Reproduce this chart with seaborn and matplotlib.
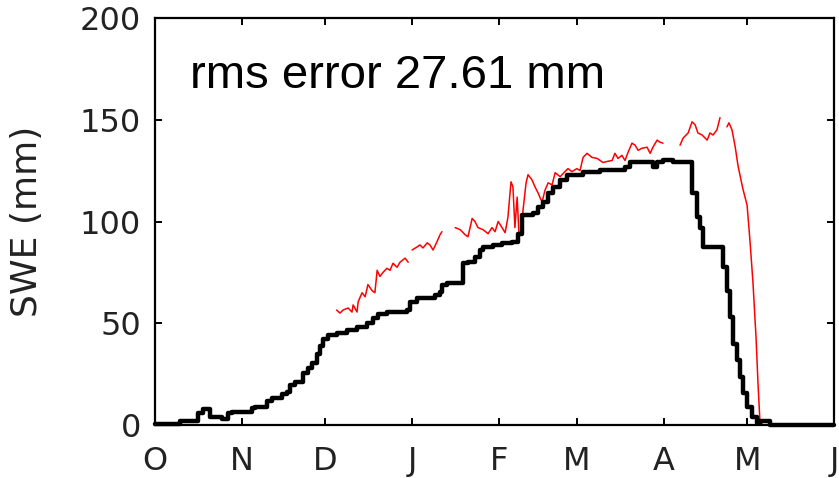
import matplotlib
matplotlib.use("Agg")
import matplotlib.pyplot as plt
import seaborn as sns
import pandas as pd

# ---- data (day of water year from Oct 1, SWE in mm) ----
month_labels = ["O", "N", "D", "J", "F", "M", "A", "M", "J"]
month_days = [0, 31, 61, 92, 123, 151, 182, 212, 243]
y_ticks = [0, 50, 100, 150, 200]

obs_day = [0, 8.9, 15.4, 17.2, 19.7, 24.0, 26.1, 27.6, 34.7, 35.8, 40.1, 41.9, 45.5,
           47.2, 48.3, 50.1, 53.0, 54.8, 56.2, 58.0, 59.1, 60.1, 61.9, 65.1, 68.7,
           72.3, 75.9, 78.0, 79.8, 83.0, 90.2, 91.3, 93.8, 100.2, 102.0, 102.7, 104.5,
           110.2, 112.0, 114.5, 116.3, 117.4, 121.0, 124.2, 127.8, 129.9, 131.4, 135.3,
           137.1, 138.9, 140.7, 142.4, 145.0, 147.5, 153.2, 159.3, 168.2, 170.0, 178.2,
           179.7, 181.8, 185.4, 190.8, 192.2, 194.0, 195.0, 196.1, 202.9, 203.3, 204.7,
           205.8, 206.9, 208.3, 209.4, 210.4, 211.9, 213.7, 215.5, 216.5, 220.1, 243]
obs_swe = [0.5, 2, 6, 8, 4, 3, 6, 6.5, 8.5, 9, 12, 13.5, 15,
           16, 19.5, 21, 25.5, 28, 30.5, 35, 39, 42.5, 44, 45, 46.5,
           48, 50, 52.5, 54.5, 55.5, 56.5, 60.5, 62.5, 64, 65.5, 69, 70,
           79.5, 80, 82.5, 86, 87.5, 88.5, 89.5, 90, 94, 103, 104,
           107, 109.5, 114, 117, 120.5, 123, 124.5, 125.5, 127, 129, 127,
           129, 130, 129, 129, 114, 102, 97, 87.5, 87.5, 77.6, 66,
           53, 40, 32, 23.5, 15.7, 9, 4, 1, 2, 0, 0]

# modelled SWE, in segments (gaps = missing data)
mod_day_1 = [65.0, 66.2, 67.3, 69.1, 70.5, 70.9, 72.3, 72.7, 74.1, 75.2, 76.2, 77.7,
             78.7, 79.5, 80.5, 81.6, 83.0, 84.1, 85.2, 86.6, 87.7, 89.5, 90.6]
mod_swe_1 = [56.5, 55, 56.5, 57.5, 55.5, 59, 55.5, 60.5, 65, 63, 69, 66,
             65, 76, 73, 75, 77, 76, 79.5, 77.5, 80, 82, 80]
mod_day_2 = [92.0, 93.8, 94.8, 95.9, 97.4, 98.4, 99.5, 100.9, 102.0, 102.7]
mod_swe_2 = [86, 87.5, 88.5, 87, 89.5, 88.5, 86, 90, 93.5, 95]
mod_day_3 = [107.4, 109.2, 111.0, 112.0, 113.5, 114.5, 115.6, 117.4, 119.2, 120.6,
             121.7, 122.8, 124.2, 125.3, 126.3, 127.4, 128.1, 128.8, 129.6, 130.3,
             131.4, 131.7, 132.8, 133.5, 134.9, 136.0, 137.1, 138.5, 139.6, 140.7,
             142.1, 143.2, 145.0, 146.7, 147.8, 149.2, 151.0, 152.1, 153.2, 154.6,
             156.4, 158.2, 159.3, 160.3, 161.8, 163.6, 164.6, 165.7, 167.1, 168.2,
             169.3, 170.7, 171.8, 172.9, 174.3, 176.1, 177.2, 178.2, 179.7, 180.7, 181.8]
mod_swe_3 = [97, 96, 93.5, 92.5, 101.5, 100, 97, 96, 94, 97,
             95, 100, 97, 94.5, 102, 119.5, 117, 97, 112, 92.5,
             97, 105.5, 119, 123, 120.5, 117, 114, 109.5, 115.5, 119,
             118, 124, 122, 124.5, 126, 124.5, 126, 125, 131.5, 133.5,
             131.5, 131, 130, 129, 129.5, 130, 133.5, 131, 132.5, 130,
             134, 138.5, 137.5, 135, 136, 136.5, 133.5, 136.5, 140, 139, 138.5]
mod_day_4 = [187.9, 189.0, 190.8, 192.2, 193.3, 194.3, 195.8, 197.6, 198.6, 199.7,
             201.1, 202.2]
mod_swe_4 = [137.5, 141, 143.5, 149, 147.5, 143.5, 142.5, 140, 143.5, 142.5, 145, 151]
mod_day_5 = [204.7, 205.4, 206.5, 207.6, 208.7, 210.4, 211.9, 212.9, 214.0, 215.1,
             215.8, 216.5, 217.6, 243]
mod_swe_5 = [146.5, 148.5, 145, 137, 127, 116, 108, 91, 70, 43, 20.5, 1.5, 0, 0]

rms_text = "rms error 27.61 mm"

# ---- build tables ----
mod_df = pd.concat([
    pd.DataFrame({"day": d, "swe": s, "seg": i})
    for i, (d, s) in enumerate([(mod_day_1, mod_swe_1), (mod_day_2, mod_swe_2),
                                (mod_day_3, mod_swe_3), (mod_day_4, mod_swe_4),
                                (mod_day_5, mod_swe_5)])
], ignore_index=True)
obs_df = pd.DataFrame({"day": obs_day, "swe": obs_swe})

sns.set_style("ticks")
plt.rcParams["font.family"] = ["DejaVu Sans"]

fig = plt.figure(figsize=(8.39, 4.78), dpi=100)
ax = fig.add_axes([155 / 839, 1 - 425 / 478, (834 - 155) / 839, (425 - 18) / 478])

sns.lineplot(data=mod_df, x="day", y="swe", units="seg", estimator=None,
             color="#ff0000", linewidth=1.1, sort=False, ax=ax, legend=False)
sns.lineplot(data=obs_df, x="day", y="swe", estimator=None, color="black",
             linewidth=3.2, sort=False, ax=ax, drawstyle="steps-post", clip_on=False)

ax.set_xlim(0, 243)
ax.set_ylim(0, 200)
ax.set_xticks(month_days)
ax.set_xticklabels(month_labels)
ax.set_yticks(y_ticks)
ax.set_yticklabels([str(v) for v in y_ticks])
ax.set_xlabel("")
ax.set_ylabel("SWE (mm)", fontsize=26, color="#222222")
ax.yaxis.set_label_coords(-0.163, 0.5)

for sp in ax.spines.values():
    sp.set_visible(True)
    sp.set_linewidth(1.6)
    sp.set_color("black")
ax.tick_params(direction="in", length=5, width=1.4, top=True, right=True,
               labelsize=23, colors="black", labelcolor="#222222")
ax.tick_params(axis="y", pad=10)
ax.tick_params(axis="x", pad=15)

ax.text(12.5, 165.6, rms_text, fontsize=34, family="Liberation Sans",
        va="baseline", ha="left", color="black")

fig.savefig("out.png", dpi=100)
